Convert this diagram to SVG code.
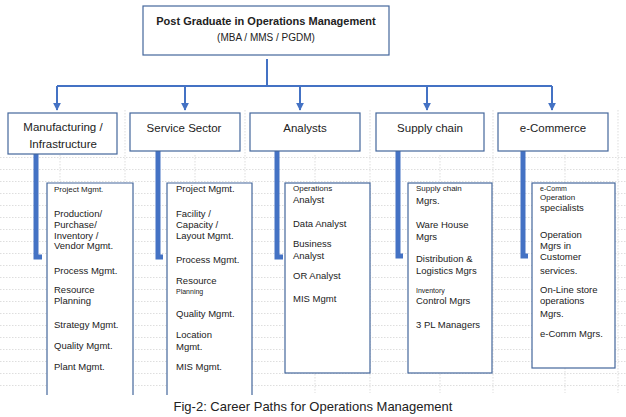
<svg xmlns="http://www.w3.org/2000/svg" width="626" height="417" viewBox="0 0 626 417">
<style>
text{font-family:"Liberation Sans","Noto Sans",sans-serif;fill:#222}
.box{fill:#fff;stroke:#44679c;stroke-width:1.2}
.cat{font-size:11.5px;text-anchor:middle}
.it{font-size:9.5px}
.sm{font-size:8px}
.xs{font-size:7px}
.conn{stroke:#4472c4;stroke-width:2;fill:none}
.bar{stroke:#4472c4;stroke-width:5;fill:none;stroke-linecap:butt}
.grid{stroke:#c8c8c8;stroke-width:0.6;stroke-dasharray:1.5 1.5}
</style>
<defs>
<marker id="ah" viewBox="0 0 10 10" refX="9" refY="5" markerWidth="4" markerHeight="4" orient="auto"><path d="M0,0L10,5L0,10z" fill="#4472c4"/></marker>
<pattern id="gp" width="626" height="12" patternUnits="userSpaceOnUse" y="1"><line x1="0" y1="0.5" x2="626" y2="0.5" class="grid"/></pattern>
</defs>
<rect x="0" y="0" width="626" height="417" fill="#fff"/>
<g id="grid">
<rect x="0" y="157" width="626" height="236" fill="url(#gp)"/>
<g class="grid">
<line x1="125" y1="110" x2="125" y2="393"/><line x1="245" y1="110" x2="245" y2="393"/><line x1="370" y1="110" x2="370" y2="393"/><line x1="493" y1="110" x2="493" y2="393"/><line x1="618" y1="110" x2="618" y2="393"/>
<line x1="60" y1="155" x2="60" y2="393"/><line x1="195" y1="155" x2="195" y2="393"/><line x1="315" y1="155" x2="315" y2="393"/><line x1="440" y1="155" x2="440" y2="393"/><line x1="565" y1="155" x2="565" y2="393"/>
</g>
</g>
<g id="connectors">
<path class="conn" d="M267,59V86"/>
<path class="conn" d="M57,86H552"/>
<path class="conn" d="M57,86V110" marker-end="url(#ah)"/>
<path class="conn" d="M185,86V110" marker-end="url(#ah)"/>
<path class="conn" d="M300,86V110" marker-end="url(#ah)"/>
<path class="conn" d="M427,86V110" marker-end="url(#ah)"/>
<path class="conn" d="M552,86V110" marker-end="url(#ah)"/>
<path class="bar" d="M36,154V257H42"/>
<path class="bar" d="M158,151V257H163"/>
<path class="bar" d="M277,151V257H283"/>
<path class="bar" d="M398,151V256H403"/>
<path class="bar" d="M523,151V256H528"/>
</g>
<g id="top">
<rect class="box" x="143" y="6" width="246" height="49"/>
<text x="266" y="25" text-anchor="middle" font-size="11" font-weight="bold">Post Graduate in Operations Management</text>
<text x="266" y="41" text-anchor="middle" font-size="10">(MBA / MMS / PGDM)</text>
</g>
<g id="manufacturing">
<rect class="box" x="8" y="113" width="109" height="41"/>
<text class="cat" x="63" y="131">Manufacturing /</text>
<text class="cat" x="63" y="148">Infrastructure</text>
</g>
<g id="service">
<rect class="box" x="130" y="113" width="110" height="38"/>
<text class="cat" x="184" y="132">Service Sector</text>
</g>
<g id="analysts">
<rect class="box" x="250" y="113" width="110" height="38"/>
<text class="cat" x="305" y="132">Analysts</text>
</g>
<g id="supply">
<rect class="box" x="376" y="113" width="108" height="38"/>
<text class="cat" x="430" y="132">Supply chain</text>
</g>
<g id="ecommerce">
<rect class="box" x="498" y="113" width="110" height="38"/>
<text class="cat" x="553" y="132">e-Commerce</text>
</g>
<g id="manuf-list">
<path class="box" d="M47,395V183H133V395"/>
<text class="sm" x="54" y="192">Project Mgmt.</text>
<text class="it" x="54" y="217">Production/</text>
<text class="it" x="54" y="228">Purchase/</text>
<text class="it" x="54" y="239">Inventory /</text>
<text class="it" x="54" y="249">Vendor Mgmt.</text>
<text class="it" x="54" y="274">Process Mgmt.</text>
<text class="it" x="54" y="293">Resource</text>
<text class="it" x="54" y="304">Planning</text>
<text class="it" x="54" y="328">Strategy Mgmt.</text>
<text class="it" x="54" y="349">Quality Mgmt.</text>
<text class="it" x="54" y="370">Plant Mgmt.</text>
</g>
<g id="service-list">
<path class="box" d="M167,395V183H252V395"/>
<text class="it" x="176" y="192">Project Mgmt.</text>
<text class="it" x="176" y="217">Facility /</text>
<text class="it" x="176" y="228">Capacity /</text>
<text class="it" x="176" y="239">Layout Mgmt.</text>
<text class="it" x="176" y="263">Process Mgmt.</text>
<text class="it" x="176" y="284">Resource</text>
<text class="xs" x="176" y="294">Planning</text>
<text class="it" x="176" y="317">Quality Mgmt.</text>
<text class="it" x="176" y="338">Location</text>
<text class="it" x="176" y="350">Mgmt.</text>
<text class="it" x="176" y="370">MIS Mgmt.</text>
</g>
<g id="analysts-list">
<rect class="box" x="285" y="183" width="85" height="190"/>
<text class="sm" x="293" y="191">Operations</text>
<text class="it" x="293" y="203">Analyst</text>
<text class="it" x="293" y="227">Data Analyst</text>
<text class="it" x="293" y="247">Business</text>
<text class="it" x="293" y="259">Analyst</text>
<text class="it" x="293" y="279">OR Analyst</text>
<text class="it" x="293" y="302">MIS Mgmt</text>
</g>
<g id="supply-list">
<rect class="box" x="408" y="183" width="84" height="190"/>
<text class="sm" x="416" y="191">Supply chain</text>
<text class="it" x="416" y="204">Mgrs.</text>
<text class="it" x="416" y="228">Ware House</text>
<text class="it" x="416" y="240">Mgrs</text>
<text class="it" x="416" y="262">Distribution &amp;</text>
<text class="it" x="416" y="274">Logistics Mgrs</text>
<text class="xs" x="416" y="293">Inventory</text>
<text class="it" x="416" y="304">Control Mgrs</text>
<text class="it" x="416" y="328">3 PL Managers</text>
</g>
<g id="ecomm-list">
<rect class="box" x="532" y="183" width="83" height="185"/>
<text class="xs" x="540" y="191">e-Comm</text>
<text class="sm" x="540" y="200">Operation</text>
<text class="it" x="540" y="211">specialists</text>
<text class="it" x="540" y="238">Operation</text>
<text class="it" x="540" y="249">Mgrs in</text>
<text class="it" x="540" y="260">Customer</text>
<text class="it" x="540" y="274">services.</text>
<text class="it" x="540" y="293">On-Line store</text>
<text class="it" x="540" y="304">operations</text>
<text class="it" x="540" y="317">Mgrs.</text>
<text class="it" x="540" y="337">e-Comm Mgrs.</text>
</g>
<text x="313" y="411" text-anchor="middle" font-size="13">Fig-2: Career Paths for Operations Management</text>
</svg>
